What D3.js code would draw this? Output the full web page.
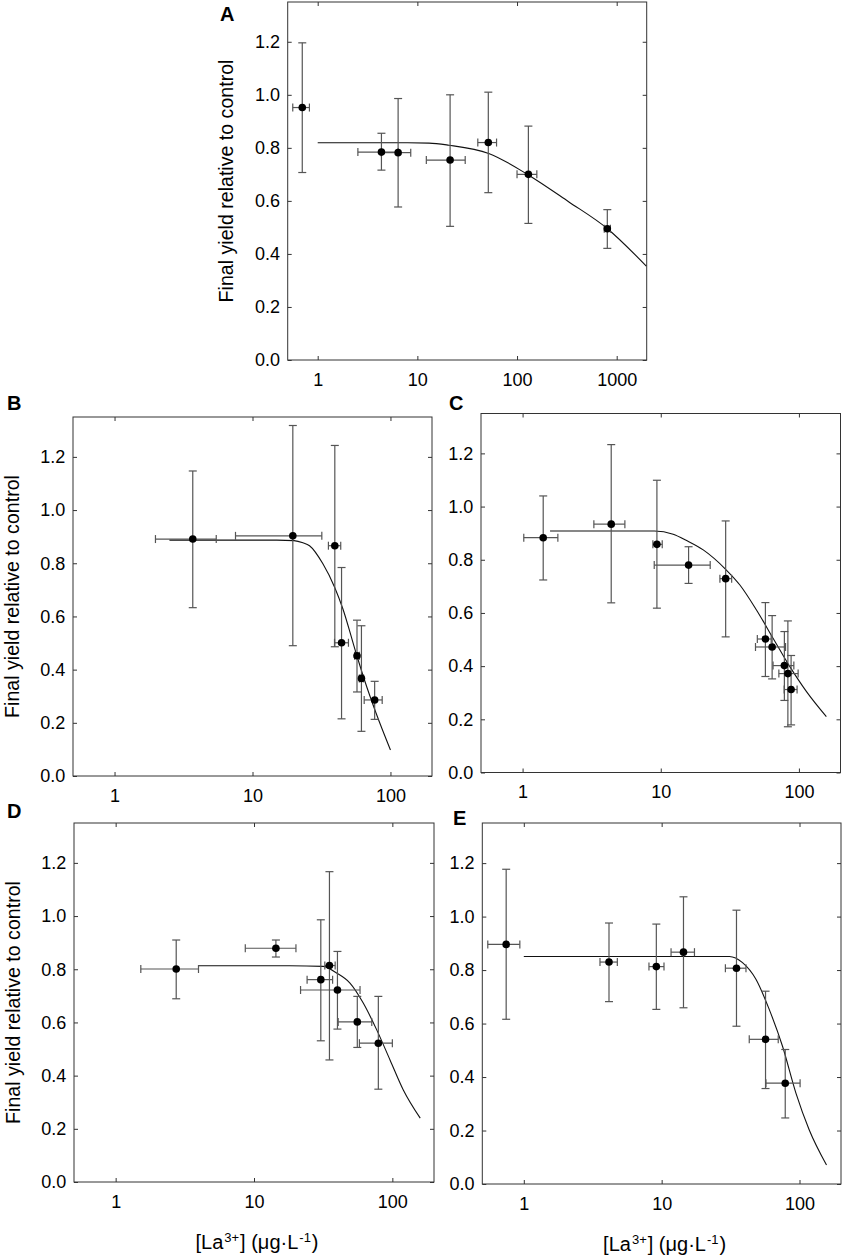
<!DOCTYPE html>
<html>
<head>
<meta charset="utf-8">
<script src="https://cdn.jsdelivr.net/npm/d3@7"></script>
<style>
body { margin: 0; background: #fff; }
svg { display: block; font-family: "Liberation Sans", Arial, sans-serif; }
</style>
</head>
<body>
<div id="chart"></div>
<script>
/*
 *  Final yield vs [La3+] dose-response panels A-E
 *  point rows: [x, y, xLow, xHigh, yLow, yHigh]
 */
var pointsA = [
    [0.70, 0.952, 0.562, 0.826, 0.707, 1.196],
    [4.36, 0.784, 2.53, 6.41, 0.716, 0.855],
    [6.41, 0.782, 4.36, 8.58, 0.577, 0.986],
    [21.3, 0.754, 12.3, 30.2, 0.504, 1.0],
    [51.5, 0.820, 40.4, 62.3, 0.631, 1.01],
    [130, 0.700, 100, 158, 0.515, 0.882],
    [805, 0.495, 750, 865, 0.421, 0.567]
];
var curveA = [[1, 0.819], [8, 0.819], [13.1, 0.818], [20.7, 0.810], [52, 0.779],
    [131, 0.697], [329, 0.597], [802, 0.496], [1982, 0.354]];

var pointsB = [
    [3.69, 0.891, 1.98, 5.46, 0.633, 1.147],
    [19.6, 0.903, 7.53, 31.8, 0.490, 1.318],
    [39.5, 0.866, 35.5, 43.6, 0.486, 1.243],
    [44.2, 0.501, 39.3, 49.6, 0.215, 0.784],
    [57.2, 0.452, 55.0, 59.5, 0.316, 0.586],
    [61.6, 0.367, 59.5, 63.8, 0.168, 0.565],
    [76.8, 0.286, 64.5, 87.1, 0.213, 0.356]
];
var curveB = [[2.5, 0.887], [15, 0.887], [20, 0.885], [23.2, 0.877], [25.9, 0.866],
    [32.3, 0.799], [39.3, 0.711], [45.1, 0.630], [56.4, 0.461], [64.8, 0.361],
    [78.7, 0.236], [100, 0.098]];

var pointsC = [
    [1.41, 0.883, 1.02, 1.80, 0.724, 1.040],
    [4.38, 0.934, 3.28, 5.50, 0.638, 1.233],
    [9.38, 0.858, 8.77, 10.25, 0.618, 1.099],
    [15.9, 0.780, 8.97, 22.8, 0.711, 0.849],
    [29.5, 0.729, 26.8, 32.6, 0.510, 0.946],
    [57.2, 0.502, 50.0, 63.0, 0.361, 0.639],
    [64.0, 0.472, 48.5, 80.0, 0.352, 0.590],
    [78.5, 0.402, 65.0, 91.9, 0.271, 0.530],
    [83.2, 0.372, 71.6, 98.7, 0.172, 0.570],
    [87.8, 0.312, 78.2, 97.0, 0.179, 0.440]
];
var curveC = [[1.58, 0.908], [9, 0.908], [12.3, 0.896], [15.4, 0.872], [20.3, 0.837],
    [29.5, 0.764], [37.4, 0.705], [49.3, 0.611], [65, 0.505], [86, 0.398],
    [113.5, 0.304], [158, 0.210]];

var pointsD = [
    [2.74, 0.801, 1.52, 3.97, 0.689, 0.910],
    [14.4, 0.879, 8.65, 20.1, 0.846, 0.910],
    [30.4, 0.761, 24.2, 37.0, 0.531, 0.986],
    [35.1, 0.814, 32.5, 38.6, 0.459, 1.167],
    [40.1, 0.722, 21.7, 58.4, 0.575, 0.867],
    [55.8, 0.602, 40.6, 71.0, 0.506, 0.698],
    [79.2, 0.522, 57.8, 100, 0.349, 0.698]
];
var curveD = [[4.0, 0.813], [18.1, 0.813], [31.6, 0.811], [39.5, 0.786], [49.4, 0.748],
    [61.6, 0.673], [77.1, 0.572], [96.2, 0.459], [120, 0.346], [159, 0.240]];

var pointsE = [
    [0.745, 0.896, 0.548, 0.936, 0.616, 1.177],
    [4.15, 0.830, 3.57, 4.77, 0.682, 0.976],
    [9.15, 0.813, 8.09, 10.4, 0.653, 0.972],
    [14.4, 0.867, 11.7, 17.3, 0.659, 1.074],
    [34.9, 0.807, 29.0, 40.9, 0.590, 1.024],
    [56.7, 0.541, 43.2, 70.1, 0.357, 0.721],
    [78.8, 0.377, 57.1, 101, 0.247, 0.503]
];
var curveE = [[1, 0.851], [22.2, 0.851], [31, 0.851], [38.6, 0.828], [48.3, 0.766],
    [60.3, 0.653], [75.3, 0.515], [94.2, 0.340], [117.5, 0.203], [157, 0.071]];

var yTicks = [0, 0.2, 0.4, 0.6, 0.8, 1.0, 1.2];
var xTicksA = [1, 10, 100, 1000];
var xTicksBE = [1, 10, 100];
var yTitle = "Final yield relative to control";

/* panel placement on the page */
var panels = [
    {key: "A", points: pointsA, curve: curveA, xMax: 2000, xTicks: xTicksA,
        left: 287.7, top: 2, w: 359, h: 358, yLabel: true, xLabel: false, letter: [220, 21]},
    {key: "B", points: pointsB, curve: curveB, xMax: 200, xTicks: xTicksBE,
        left: 73, top: 417, w: 359, h: 359, yLabel: true, xLabel: false, letter: [7, 410]},
    {key: "C", points: pointsC, curve: curveC, xMax: 200, xTicks: xTicksBE,
        left: 481, top: 413.5, w: 359.5, h: 359, yLabel: false, xLabel: false, letter: [449, 410]},
    {key: "D", points: pointsD, curve: curveD, xMax: 200, xTicks: xTicksBE,
        left: 74, top: 823, w: 360, h: 359, yLabel: true, xLabel: true, letter: [7, 818]},
    {key: "E", points: pointsE, curve: curveE, xMax: 200, xTicks: xTicksBE,
        left: 482.3, top: 823, w: 358.7, h: 361, yLabel: false, xLabel: true, letter: [453, 825]}
];

var svg = d3.select("#chart").append("svg")
    .attr("width", 844)
    .attr("height", 1257);

var barColor = "#555", frameColor = "#333", cap = 4;

panels.forEach(function (p) {

    var x = d3.scaleLog().domain([0.5, p.xMax]).range([0, p.w]);
    var y = d3.scaleLinear().domain([0, 1.35]).range([p.h, 0]);

    var g = svg.append("g")
        .attr("transform", "translate(" + p.left + "," + p.top + ")");

    // inward ticks on all four sides, labels only bottom / left
    g.append("g").attr("class", "ax")
        .attr("transform", "translate(0," + p.h + ")")
        .call(d3.axisBottom(x).tickValues(p.xTicks).tickFormat(d3.format("d"))
            .tickSize(-4).tickPadding(13));
    g.append("g").attr("class", "ax")
        .call(d3.axisTop(x).tickValues(p.xTicks).tickFormat("").tickSize(-4));
    g.append("g").attr("class", "ax")
        .call(d3.axisLeft(y).tickValues(yTicks).tickFormat(d3.format(".1f"))
            .tickSize(-4).tickPadding(7.7));
    g.append("g").attr("class", "ax")
        .attr("transform", "translate(" + p.w + ",0)")
        .call(d3.axisRight(y).tickValues(yTicks).tickFormat("").tickSize(-4));

    g.selectAll(".ax").attr("font-family", null).attr("font-size", null);
    g.selectAll(".domain").remove();
    g.selectAll(".tick line").attr("stroke", frameColor);
    g.selectAll(".tick text").attr("fill", "#000").style("font-size", "18px");

    g.append("rect")
        .attr("width", p.w)
        .attr("height", p.h)
        .attr("fill", "none")
        .attr("stroke", frameColor)
        .attr("stroke-width", 1);

    // fitted curve
    var line = d3.line()
        .x(function (d) { return x(d[0]); })
        .y(function (d) { return y(d[1]); })
        .curve(d3.curveMonotoneX);

    g.append("path")
        .datum(p.curve)
        .attr("d", line)
        .attr("fill", "none")
        .attr("stroke", "#111")
        .attr("stroke-width", 1.1);

    // error bars
    var bars = g.append("g")
        .attr("stroke", barColor)
        .attr("stroke-width", 1.2)
        .selectAll("g")
        .data(p.points)
        .enter().append("g");

    bars.append("line")
        .attr("x1", function (d) { return x(d[0]); })
        .attr("x2", function (d) { return x(d[0]); })
        .attr("y1", function (d) { return y(d[4]); })
        .attr("y2", function (d) { return y(d[5]); });
    [4, 5].forEach(function (k) {
        bars.append("line")
            .attr("x1", function (d) { return x(d[0]) - cap; })
            .attr("x2", function (d) { return x(d[0]) + cap; })
            .attr("y1", function (d) { return y(d[k]); })
            .attr("y2", function (d) { return y(d[k]); });
    });
    bars.append("line")
        .attr("x1", function (d) { return x(d[2]); })
        .attr("x2", function (d) { return x(d[3]); })
        .attr("y1", function (d) { return y(d[1]); })
        .attr("y2", function (d) { return y(d[1]); });
    [2, 3].forEach(function (k) {
        bars.append("line")
            .attr("x1", function (d) { return x(d[k]); })
            .attr("x2", function (d) { return x(d[k]); })
            .attr("y1", function (d) { return y(d[1]) - cap; })
            .attr("y2", function (d) { return y(d[1]) + cap; });
    });

    g.append("g")
        .selectAll("circle")
        .data(p.points)
        .enter().append("circle")
        .attr("cx", function (d) { return x(d[0]); })
        .attr("cy", function (d) { return y(d[1]); })
        .attr("r", 3.8)
        .attr("fill", "#000");

    // panel letter
    svg.append("text")
        .attr("x", p.letter[0])
        .attr("y", p.letter[1])
        .attr("font-size", 20)
        .attr("font-weight", "bold")
        .text(p.key);

    if (p.yLabel) {
        svg.append("text")
            .attr("transform", "translate(" + (p.left - 54.5) + "," + (p.top + p.h / 2) + ") rotate(-90)")
            .attr("text-anchor", "middle")
            .attr("font-size", 19.6)
            .text(yTitle);
    }

    if (p.xLabel) {
        var t = svg.append("text")
            .attr("x", p.left + p.w / 2 + 3)
            .attr("y", p.top + p.h + 67)
            .attr("text-anchor", "middle")
            .attr("font-size", 20);
        t.append("tspan").text("[La");
        t.append("tspan").attr("font-size", 13).attr("dy", -7).attr("dx", 1).text("3+");
        t.append("tspan").attr("dy", 7).attr("dx", 1).text("] (\u03bcg\u00b7L");
        t.append("tspan").attr("font-size", 13).attr("dy", -7).attr("dx", 1).text("-1");
        t.append("tspan").attr("dy", 7).attr("dx", 1).text(")");
    }
});
</script>
</body>
</html>
